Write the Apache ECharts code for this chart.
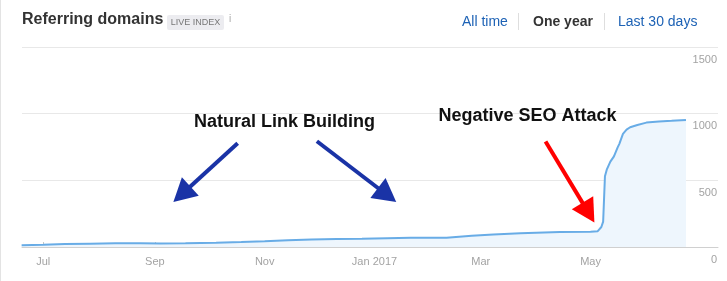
<!DOCTYPE html>
<html>
<head>
<meta charset="utf-8">
<script src="https://cdn.jsdelivr.net/npm/echarts@6/dist/echarts.min.js"></script>
<style>
  html, body { margin: 0; padding: 0; background: #fff; }
  #chart { width: 727px; height: 281px; }
</style>
</head>
<body>
<div id="chart"></div>
<script>
// Referring domains over one year (index samples)
const dates = [
  '2016-06-19', '2016-07-01', '2016-07-13', '2016-07-27', '2016-08-10', '2016-08-24',
  '2016-09-04', '2016-09-18', '2016-10-05', '2016-10-19', '2016-11-01', '2016-11-14',
  '2016-11-27', '2016-12-11', '2016-12-25', '2017-01-08', '2017-01-21', '2017-02-10',
  '2017-02-24', '2017-03-08', '2017-03-23', '2017-04-14', '2017-05-01', '2017-05-05',
  '2017-05-06', '2017-05-07', '2017-05-08', '2017-05-09', '2017-05-10', '2017-05-12',
  '2017-05-14', '2017-05-16', '2017-05-17', '2017-05-19', '2017-05-21', '2017-05-23',
  '2017-05-27', '2017-06-01', '2017-06-08', '2017-06-15', '2017-06-23'
];
const domains = [
  13, 17, 22, 25, 28, 28,
  27, 29, 32, 37, 43, 50,
  57, 60, 62, 66, 69, 69,
  84, 94, 104, 112, 115, 119,
  125, 150, 190, 530, 580, 640,
  680, 745, 774, 848, 880, 898,
  915, 933, 942, 946, 953
];

// Axis range and labelled month starts
const axisStart = '2016-06-19T05:00:00';
const axisEnd = '2017-07-10T19:00:00';
const monthTicks = ['2016-07-01', '2016-09-01', '2016-11-01', '2017-01-01', '2017-03-01', '2017-05-01'];
const monthNames = ['Jan', 'Feb', 'Mar', 'Apr', 'May', 'Jun', 'Jul', 'Aug', 'Sep', 'Oct', 'Nov', 'Dec'];
const yTicks = { min: 0, max: 1500, interval: 500 };

// Annotation arrows: [from, to] as [date, domains]; the head is centred on "to"
const blueArrows = [
  [['2016-10-17', 778], ['2016-09-16', 395]],
  [['2016-11-30', 793], ['2017-01-08', 390]]
];
const redArrows = [
  [['2017-04-06', 791], ['2017-04-29T20:00:00', 258]]
];

const FONT = '"Liberation Sans", Arial, Helvetica, sans-serif';
const BLUE_ARROW = '#1a33a6';
const RED_ARROW = '#ff0000';

function ts(s) {
  return new Date(s.length === 10 ? s + 'T00:00:00' : s).getTime();
}

const tickTimes = monthTicks.map(ts);
const seriesData = dates.map((d, i) => [ts(d), domains[i]]);

function arrowItems(list, color) {
  return list.map(([a, b]) => [
    { coord: [ts(a[0]), a[1]], lineStyle: { color: color, width: 4, type: 'solid' }, itemStyle: { color: color } },
    { coord: [ts(b[0]), b[1]] }
  ]);
}

const chart = echarts.init(document.getElementById('chart'), null, { renderer: 'canvas' });

chart.setOption({
  animation: false,
  textStyle: { fontFamily: FONT },
  grid: { left: 22, right: 9, top: 47, bottom: 34, containLabel: false },
  xAxis: {
    type: 'value',
    min: ts(axisStart),
    max: ts(axisEnd),
    axisLine: { show: true, lineStyle: { color: '#d0d0d0', width: 1 } },
    axisTick: {
      show: true, inside: true, length: 5,
      customValues: tickTimes,
      lineStyle: { color: '#c6c6c6', width: 1 }
    },
    axisLabel: {
      customValues: tickTimes,
      color: '#a3a3a3',
      fontSize: 11,
      fontFamily: FONT,
      margin: 9,
      formatter: function (v) {
        const d = new Date(v);
        const m = monthNames[d.getMonth()];
        return d.getMonth() === 0 ? m + ' ' + d.getFullYear() : m;
      }
    },
    splitLine: { show: false }
  },
  yAxis: {
    type: 'value',
    position: 'right',
    min: yTicks.min,
    max: yTicks.max,
    interval: yTicks.interval,
    axisLine: { show: false },
    axisTick: { show: false },
    axisLabel: {
      inside: true,
      margin: 1,
      color: '#a3a3a3',
      fontSize: 11,
      fontFamily: FONT,
      verticalAlign: 'top',
      padding: [7, 0, 0, 0],
      formatter: function (v) { return String(v); }
    },
    splitLine: { show: true, lineStyle: { color: '#e8e8e8', width: 1 } }
  },
  series: [{
    type: 'line',
    name: 'Referring domains',
    data: seriesData,
    showSymbol: false,
    symbol: 'none',
    lineStyle: { color: '#68ace6', width: 2 },
    areaStyle: { color: '#eef6fd', opacity: 1 },
    z: 2,
    markLine: {
      silent: true,
      symbol: ['none', 'triangle'],
      symbolSize: [25, 23],
      label: { show: false },
      emphasis: { disabled: true },
      data: arrowItems(blueArrows, BLUE_ARROW).concat(arrowItems(redArrows, RED_ARROW))
    }
  }],
  graphic: [
    // container border
    { type: 'rect', shape: { x: 0, y: 0, width: 1, height: 281 }, style: { fill: '#e3e3e3' }, silent: true },
    // header
    { type: 'text', x: 22, y: 20, style: { text: 'Referring domains', font: 'bold 16px ' + FONT, fill: '#333', verticalAlign: 'middle' } },
    { type: 'rect', shape: { x: 167, y: 15, width: 57, height: 15, r: 2 }, style: { fill: '#ececf0' } },
    { type: 'text', x: 195.5, y: 23, style: { text: 'LIVE INDEX', font: '9px ' + FONT, fill: '#777', align: 'center', verticalAlign: 'middle' } },
    { type: 'text', x: 230, y: 19, style: { text: 'i', font: '10px ' + FONT, fill: '#aaa', align: 'center', verticalAlign: 'middle' } },
    { type: 'text', x: 462, y: 22, style: { text: 'All time', font: '14px ' + FONT, fill: '#1d62b5', verticalAlign: 'middle' } },
    { type: 'rect', shape: { x: 518, y: 13, width: 1, height: 17 }, style: { fill: '#dedede' } },
    { type: 'text', x: 533, y: 22, style: { text: 'One year', font: 'bold 14px ' + FONT, fill: '#333', verticalAlign: 'middle' } },
    { type: 'rect', shape: { x: 604, y: 13, width: 1, height: 17 }, style: { fill: '#dedede' } },
    { type: 'text', x: 618, y: 22, style: { text: 'Last 30 days', font: '14px ' + FONT, fill: '#1d62b5', verticalAlign: 'middle' } },
    // annotations
    { type: 'text', x: 284.5, y: 122, z: 10, style: { text: 'Natural Link Building', font: 'bold 18px ' + FONT, fill: '#111', align: 'center', verticalAlign: 'middle' } },
    { type: 'text', x: 527.5, y: 116, z: 10, style: { text: 'Negative SEO Attack', font: 'bold 18px ' + FONT, fill: '#111', align: 'center', verticalAlign: 'middle' } }
  ]
});
</script>
</body>
</html>
